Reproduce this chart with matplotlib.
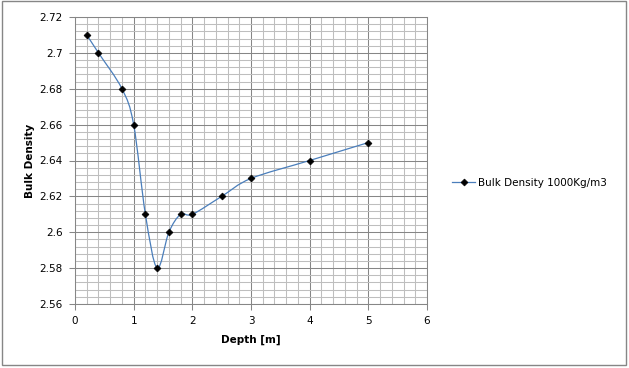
import numpy as np
import matplotlib
matplotlib.use('Agg')
import matplotlib.pyplot as plt
from matplotlib.path import Path
from matplotlib.patches import PathPatch, Rectangle
from matplotlib.lines import Line2D
from matplotlib.ticker import MultipleLocator, FuncFormatter

depth = [0.2, 0.4, 0.8, 1.0, 1.2, 1.4, 1.6, 1.8, 2.0, 2.5, 3.0, 4.0, 5.0]
density = [2.71, 2.70, 2.68, 2.66, 2.61, 2.58, 2.60, 2.61, 2.61, 2.62, 2.63, 2.64, 2.65]
series_label = 'Bulk Density 1000Kg/m3'
x_label = 'Depth [m]'
y_label = 'Bulk Density'

plt.rcParams['font.family'] = ['DejaVu Sans']

W, H = 629, 368
fig = plt.figure(figsize=(W / 100, H / 100), dpi=100)
ax = fig.add_axes([75 / W, 1 - 304 / H, (427 - 75) / W, (304 - 17) / H])

line_color = '#4A7EBB'

# Smoothed line (Excel-like Catmull-Rom Bezier)
P = np.column_stack([depth, density])
n = len(P)
verts = [tuple(P[0])]
codes = [Path.MOVETO]
for i in range(n - 1):
    p0 = P[i - 1] if i > 0 else P[i]
    p1 = P[i]
    p2 = P[i + 1]
    p3 = P[i + 2] if i + 2 < n else P[i + 1]
    c1 = p1 + (p2 - p0) / 6.0
    c2 = p2 - (p3 - p1) / 6.0
    verts += [tuple(c1), tuple(c2), tuple(p2)]
    codes += [Path.CURVE4] * 3
ax.add_patch(PathPatch(Path(verts, codes), facecolor='none', edgecolor=line_color,
                       lw=0.9, zorder=3))
ax.plot(depth, density, linestyle='none', marker='D', markersize=3.5, mew=0.5,
        color='black', zorder=4)

ax.set_xlim(0, 6)
ax.set_ylim(2.56, 2.72)
ax.xaxis.set_major_locator(MultipleLocator(1))
ax.xaxis.set_minor_locator(MultipleLocator(0.2))
ax.yaxis.set_major_locator(MultipleLocator(0.02))
ax.yaxis.set_minor_locator(MultipleLocator(0.004))
ax.yaxis.set_major_formatter(FuncFormatter(lambda v, p: ('%.2f' % v).rstrip('0').rstrip('.')))
ax.xaxis.set_major_formatter(FuncFormatter(lambda v, p: '%d' % round(v)))

ax.grid(which='major', color='#868686', lw=0.75, zorder=1)
ax.grid(which='minor', color='#BEBEBE', lw=0.75, zorder=0)
ax.set_axisbelow(True)
for s in ax.spines.values():
    s.set_color('#868686')
    s.set_linewidth(0.75)
ax.tick_params(which='major', length=4, width=0.75, color='#868686', labelsize=7.5,
               labelcolor='black', pad=5)
ax.tick_params(which='minor', length=0)

ax.set_xlabel(x_label, fontsize=7.5, fontweight='bold', labelpad=6)
ax.set_ylabel(y_label, fontsize=7.5, fontweight='bold', labelpad=3)

handle = Line2D([], [], color=line_color, lw=0.9, marker='D', markersize=3.5, mew=0.5,
                markerfacecolor='black', markeredgecolor='black')
fig.legend([handle], [series_label], loc='center left',
           bbox_to_anchor=(443 / W, 1 - 183 / H), frameon=False, fontsize=7.5,
           handlelength=2.2, handletextpad=0.3)

fig.patches.append(Rectangle((2 / W, 3 / H), 624 / W, 364 / H,
                             transform=fig.transFigure, fill=False,
                             edgecolor='#868686', lw=1))

fig.savefig('out.png', dpi=100)
